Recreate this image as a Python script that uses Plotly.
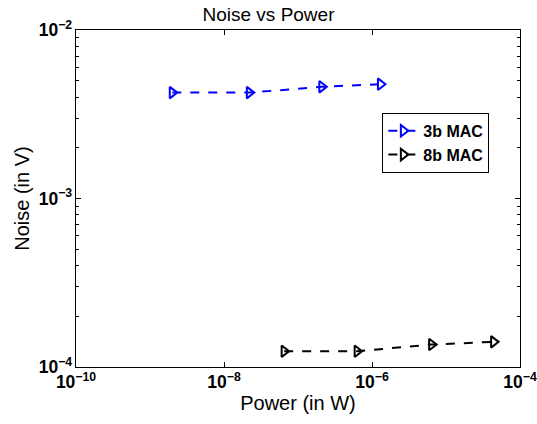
import plotly.graph_objects as go

# Power (W) and noise (V) for the two MAC designs
power_3b = [2.0e-9, 2.2e-8, 2.1e-7, 1.3e-6]
noise_3b = [4.25e-3, 4.25e-3, 4.6e-3, 4.77e-3]

power_8b = [6.5e-8, 6.3e-7, 6.4e-6, 4.4e-5]
noise_8b = [1.24e-4, 1.24e-4, 1.36e-4, 1.41e-4]

# Axis ranges in decades (log10)
x_decades = [-10, -4]
y_decades = [-4, -2]

FONT = "Liberation Sans, Arial, sans-serif"

fig = go.Figure()
fig.add_trace(go.Scatter(
    x=power_3b, y=noise_3b, name="3b MAC", mode="lines+markers",
    line=dict(color="#0000ff", width=2, dash="dash"),
    marker=dict(symbol="triangle-right-open", size=10, color="#0000ff",
                line=dict(width=2, color="#0000ff")),
))
fig.add_trace(go.Scatter(
    x=power_8b, y=noise_8b, name="8b MAC", mode="lines+markers",
    line=dict(color="#000000", width=2, dash="dash"),
    marker=dict(symbol="triangle-right-open", size=10, color="#000000",
                line=dict(width=2, color="#000000")),
))

axis_common = dict(
    type="log", tickmode="linear", exponentformat="power",
    ticks="inside", ticklen=5, tickcolor="black",
    showline=True, linecolor="black", linewidth=1, mirror="ticks",
    showgrid=False, zeroline=False, ticklabeloverflow="allow",
    automargin=False,
    tickfont=dict(size=14, family=FONT, weight="bold", color="black"),
)

fig.update_layout(
    width=537, height=424,
    margin=dict(l=76, r=17, t=30, b=57),
    paper_bgcolor="white", plot_bgcolor="white",
    font=dict(family=FONT, color="black"),
    title=dict(text="Noise vs Power", x=0.5, xanchor="center",
               y=0.967, yanchor="middle", font=dict(size=19)),
    legend=dict(x=0.69, y=0.754, xanchor="left", yanchor="top",
                bgcolor="white", bordercolor="black", borderwidth=1,
                font=dict(size=16, family=FONT, weight="bold"),
                tracegroupgap=0, itemwidth=30),
    xaxis=dict(range=x_decades, tick0=-10, dtick=2,
               title=dict(text="Power (in W)", font=dict(size=20), standoff=4),
               **axis_common),
    yaxis=dict(range=y_decades, tick0=-4, dtick=1,
               minor=dict(ticks="inside", ticklen=3, tickcolor="black",
                          dtick="D1", showgrid=False),
               title=dict(text="Noise (in V)", font=dict(size=20), standoff=3),
               **axis_common),
)

fig.write_html("out.html")
